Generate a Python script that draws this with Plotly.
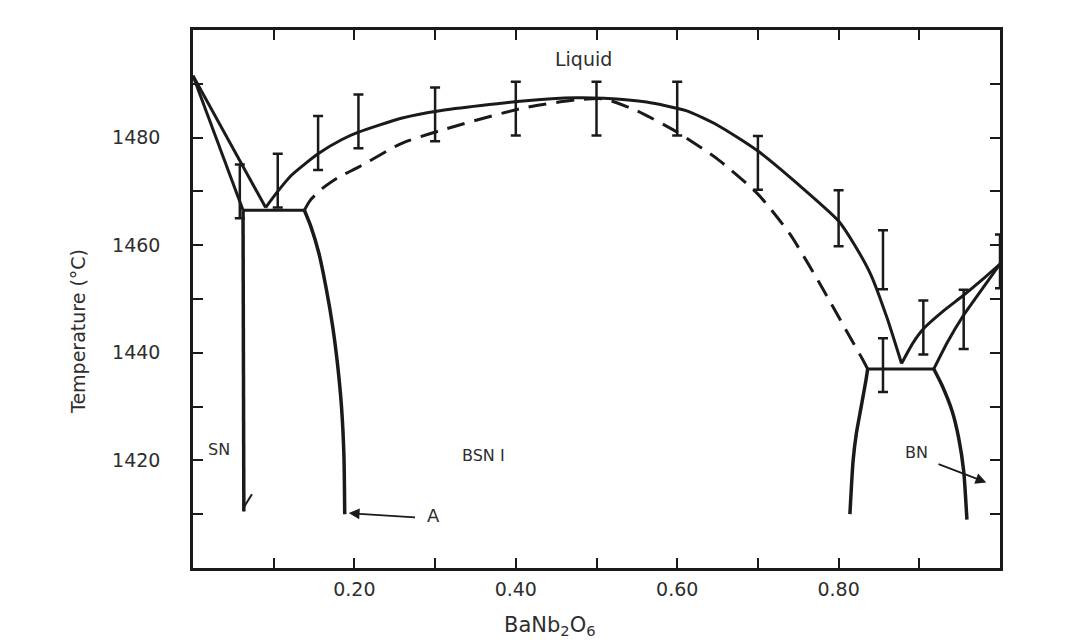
import plotly.graph_objects as go

# ---------------- data ----------------
# liquidus, left branch from SrNb2O6 melting point
liq_left_x = [0.0, 0.09]
liq_left_T = [1491.5, 1467.0]
# solidus of SN side
sol_sn_x = [0.0, 0.062]
sol_sn_T = [1491.5, 1466.5]
# left eutectic line
eut1_x = [0.062, 0.138]
eut1_T = [1466.5, 1466.5]
# SN solvus (nearly vertical)
sn_solvus_x = [0.062, 0.0625, 0.063]
sn_solvus_T = [1466.5, 1440.0, 1410.5]
# small mark at bottom of SN line
sn_mark_x = [0.063, 0.073]
sn_mark_T = [1411.3, 1413.7]
# solvus "A"
a_x = [0.138, 0.146, 0.156, 0.165, 0.173, 0.179, 0.184, 0.187, 0.188]
a_T = [1466.5, 1463.5, 1458.5, 1452.0, 1445.0, 1438.0, 1430.0, 1421.0, 1410.0]
# main liquidus (solid)
liq_x = [0.09, 0.105, 0.122, 0.155, 0.184, 0.205, 0.258, 0.306, 0.409, 0.474,
         0.509, 0.562, 0.611, 0.65, 0.70, 0.75, 0.80, 0.82, 0.84, 0.86, 0.878]
liq_T = [1467.0, 1470.0, 1473.0, 1477.0, 1479.6, 1481.0, 1483.6, 1485.0, 1486.8, 1487.4,
         1487.3, 1486.6, 1485.0, 1482.3, 1477.5, 1471.3, 1464.5, 1460.0, 1454.5, 1446.5, 1438.0]
# solidus of BSN (dashed)
sol_x = [0.138, 0.145, 0.16, 0.18, 0.205, 0.258, 0.306, 0.409, 0.474, 0.509,
         0.55, 0.60, 0.65, 0.70, 0.74, 0.78, 0.81, 0.83, 0.836]
sol_T = [1466.5, 1468.3, 1470.5, 1472.6, 1474.5, 1478.9, 1481.3, 1485.5, 1487.0, 1487.2,
         1485.0, 1481.0, 1476.0, 1469.5, 1462.0, 1452.0, 1444.0, 1438.7, 1437.0]
# right eutectic line
eut2_x = [0.836, 0.918]
eut2_T = [1437.0, 1437.0]
# BSN solvus on the BN side
bsn_r_x = [0.836, 0.834, 0.828, 0.822, 0.818, 0.814]
bsn_r_T = [1437.0, 1435.0, 1430.0, 1425.0, 1420.0, 1410.0]
# BN solvus
bn_x = [0.918, 0.928, 0.941, 0.949, 0.955, 0.959]
bn_T = [1437.0, 1434.0, 1429.0, 1424.0, 1418.0, 1409.0]
# right liquidus and solidus branches to BaNb2O6 melting point
liq_right_x = [0.878, 0.892, 0.906, 0.93, 0.954, 0.978, 1.0]
liq_right_T = [1438.0, 1441.8, 1444.6, 1447.8, 1450.6, 1453.6, 1456.5]
sol_right_x = [0.918, 0.935, 0.954, 0.978, 1.0]
sol_right_T = [1437.0, 1442.0, 1446.8, 1451.9, 1456.5]

# measured points with error bars
err_x = [0.058, 0.105, 0.155, 0.205, 0.30, 0.40, 0.50, 0.60, 0.70, 0.80,
         0.855, 0.855, 0.905, 0.955, 1.0]
err_T = [1470.0, 1472.0, 1479.0, 1483.0, 1484.3, 1485.4, 1485.4, 1485.4, 1475.3, 1465.0,
         1457.3, 1437.7, 1444.7, 1446.2, 1457.0]
err_h = [5.0, 5.0, 5.0, 5.0, 5.0, 5.0, 5.0, 5.0, 5.0, 5.2,
         5.5, 5.0, 5.0, 5.5, 5.0]

x_tickvals = [0.1, 0.2, 0.3, 0.4, 0.5, 0.6, 0.7, 0.8, 0.9]
x_ticktext = ["", "0.20", "", "0.40", "", "0.60", "", "0.80", ""]
y_tickvals = [1410, 1420, 1430, 1440, 1450, 1460, 1470, 1480, 1490]
y_ticktext = ["", "1420", "", "1440", "", "1460", "", "1480", ""]

# ---------------- figure ----------------
INK = "#1a1a1a"
TXT = "#2e2e2e"
FONT = "DejaVu Sans"
fig = go.Figure()


def add_line(x, y, dash="solid", width=3.0, smooth=False):
    fig.add_trace(go.Scatter(
        x=x, y=y, mode="lines",
        line=dict(color=INK, width=width, dash=dash,
                  shape="spline" if smooth else "linear",
                  smoothing=0.6 if smooth else None),
        hoverinfo="skip", showlegend=False))


add_line(liq_left_x, liq_left_T)
add_line(sol_sn_x, sol_sn_T)
add_line(eut1_x, eut1_T)
add_line(sn_solvus_x, sn_solvus_T, width=3.5)
add_line(sn_mark_x, sn_mark_T, width=2)
add_line(a_x, a_T, width=3.5, smooth=True)
add_line(liq_x, liq_T, smooth=True)
add_line(sol_x, sol_T, dash="18px,10px", smooth=True)
add_line(eut2_x, eut2_T)
add_line(bsn_r_x, bsn_r_T, width=3.5, smooth=True)
add_line(bn_x, bn_T, width=3.5, smooth=True)
add_line(liq_right_x, liq_right_T, smooth=True)
add_line(sol_right_x, sol_right_T, smooth=True)

fig.add_trace(go.Scatter(
    x=err_x, y=err_T, mode="markers",
    marker=dict(size=1, color=INK, opacity=0),
    error_y=dict(type="data", array=err_h, visible=True,
                 color=INK, thickness=2.5, width=5),
    hoverinfo="skip", showlegend=False))

annos = [
    dict(x=0.484, y=1494.6, text="Liquid", size=19),
    dict(x=0.36, y=1421.0, text="BSN I", size=16),
    dict(x=0.032, y=1422.0, text="SN", size=16),
    dict(x=0.897, y=1421.5, text="BN", size=16),
    dict(x=0.298, y=1409.8, text="A", size=18),
]
for a in annos:
    fig.add_annotation(xref="x", yref="y", showarrow=False,
                       font=dict(family=FONT, color=TXT, size=a["size"]),
                       x=a["x"], y=a["y"], text=a["text"])

# arrows
fig.add_annotation(xref="x", yref="y", axref="x", ayref="y",
                   x=0.193, y=1410.2, ax=0.277, ay=1409.4, text="",
                   showarrow=True, arrowhead=2, arrowsize=1.2, arrowwidth=1.8,
                   arrowcolor=INK)
fig.add_annotation(xref="x", yref="y", axref="x", ayref="y",
                   x=0.983, y=1415.9, ax=0.922, ay=1419.4, text="",
                   showarrow=True, arrowhead=2, arrowsize=1.2, arrowwidth=1.8,
                   arrowcolor=INK)

# axis titles
fig.add_annotation(xref="paper", yref="paper", x=-0.1586, y=0.4387,
                   text="Temperature (°C)", textangle=-90, showarrow=False,
                   font=dict(family=FONT, size=19, color=TXT))
fig.add_annotation(xref="paper", yref="paper", x=0.4424, y=-0.108,
                   yanchor="middle",
                   text="BaNb<sub>2</sub>O<sub>6</sub>", showarrow=False,
                   font=dict(family=FONT, size=21, color=TXT))

axis_common = dict(showline=True, linewidth=2.5, linecolor=INK, mirror="ticks",
                   ticks="inside", ticklen=10, tickwidth=2, tickcolor=INK,
                   showgrid=False, zeroline=False,
                   tickfont=dict(family=FONT, size=19, color=TXT))

fig.update_xaxes(range=[0, 1], tickmode="array", tickvals=x_tickvals,
                 ticktext=x_ticktext, ticklabelstandoff=2, **axis_common)
fig.update_yaxes(range=[1400, 1500], tickmode="array", tickvals=y_tickvals,
                 ticktext=y_ticktext, ticklabelstandoff=26, **axis_common)

fig.update_layout(width=1081, height=640,
                  margin=dict(l=193, r=81, t=30, b=72),
                  paper_bgcolor="white", plot_bgcolor="white",
                  showlegend=False)

fig.write_html("out.html")
